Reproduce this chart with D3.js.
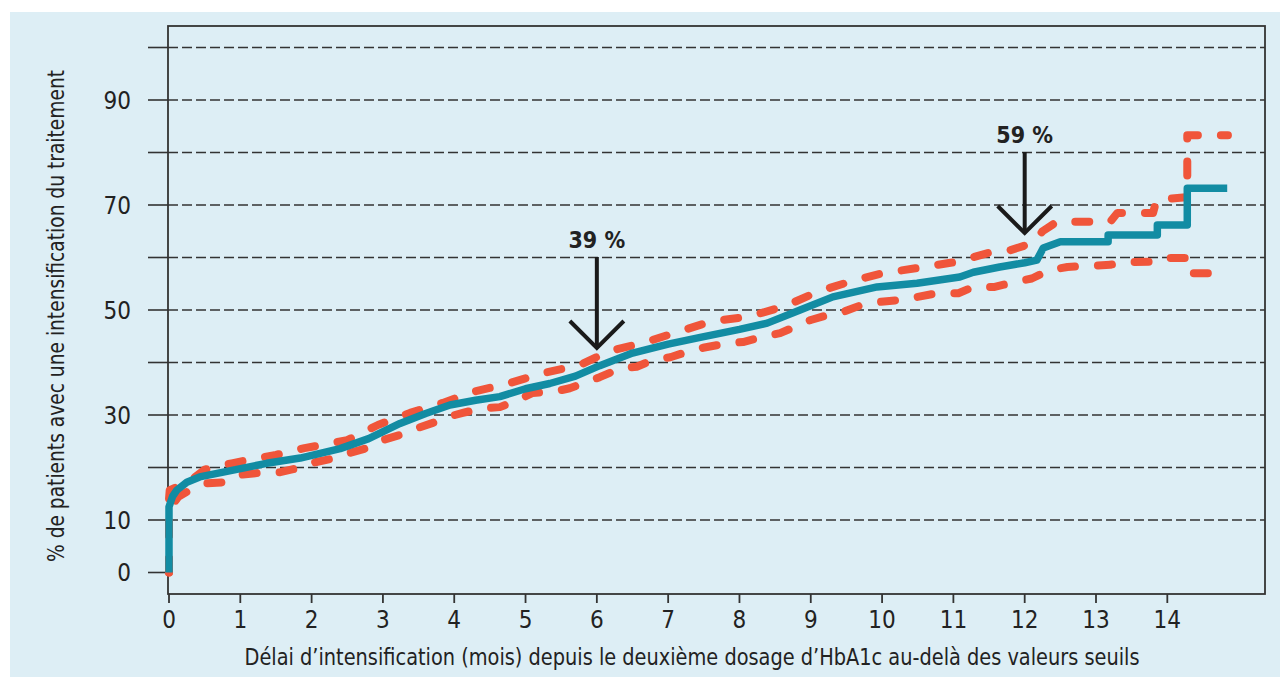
<!DOCTYPE html>
<html><head><meta charset="utf-8">
<script src="https://cdn.jsdelivr.net/npm/d3@7"></script>
<style>
html,body{margin:0;padding:0;background:#fff;}
svg text{font-family:"Liberation Sans Narrow","DejaVu Sans Condensed","Roboto Condensed",sans-serif;fill:#222;}
</style></head>
<body>
<svg id="chart" width="1280" height="677"></svg>
<script>
// ---- data (months, % of patients) ----
const xTicks = [0,1,2,3,4,5,6,7,8,9,10,11,12,13,14];
const yTicks = [0,10,20,30,40,50,60,70,80,90,100];
const yTickLabels = [0,10,30,50,70,90];

const mainCurve = [[0,0],[0,12.5],[0.05,14.5],[0.11,15.7],[0.25,17.2],[0.43,18.2],[0.9,19.5],[1.37,20.8],[1.84,21.8],[2.4,23.6],[2.8,25.5],[3.24,28.4],[3.6,30.3],[3.94,31.9],[4.3,32.8],[4.64,33.5],[5.0,35.0],[5.34,36.0],[5.7,37.4],[6.04,39.4],[6.5,41.8],[7.0,43.5],[7.45,44.8],[8.0,46.3],[8.39,47.5],[8.85,50.0],[9.31,52.5],[9.93,54.4],[10.49,55.1],[11.09,56.3],[11.28,57.2],[11.65,58.2],[12.0,59.0],[12.17,59.5],[12.26,61.8],[12.5,63.0],[13.17,63.0],[13.17,64.3],[13.86,64.3],[13.86,66.2],[14.28,66.2],[14.28,73.2],[14.84,73.2]];

const upperCI = [[0,0],[0,14],[0.01,15.7],[0.27,17.2],[0.5,19.6],[0.88,20.8],[1.1,21.4],[1.5,22.4],[1.9,23.7],[2.15,24.3],[2.5,25.2],[2.93,28.1],[3.38,30.4],[3.84,32.3],[4.26,34.4],[4.76,36.0],[5.25,38.0],[5.76,39.5],[6.18,42.2],[6.67,43.8],[7.15,45.9],[7.6,47.8],[8.15,48.8],[8.65,50.8],[9.1,53.5],[9.55,55.4],[10.0,57.0],[10.55,58.1],[11.05,59.2],[11.5,60.9],[11.8,61.4],[12.1,62.7],[12.25,65.0],[12.45,66.8],[13.2,66.8],[13.3,68.5],[13.8,68.5],[13.85,71.0],[14.28,71.5],[14.28,83.3],[14.85,83.3]];

const lowerCI = [[0,0],[0,12],[0.13,14.4],[0.29,15.7],[0.53,17.0],[0.79,17.2],[1.0,18.6],[1.28,19.0],[1.56,19.1],[1.81,19.9],[2.05,21.0],[2.33,21.8],[2.54,22.8],[2.78,23.7],[2.99,25.2],[3.24,26.2],[3.48,27.5],[3.7,28.5],[3.9,29.6],[4.12,30.4],[4.39,31.3],[4.64,31.5],[4.9,32.9],[5.1,34.2],[5.39,34.4],[5.62,35.1],[5.86,36.3],[6.04,37.2],[6.33,38.9],[6.56,39.2],[6.79,40.5],[7.03,41.0],[7.26,42.0],[7.49,42.8],[7.8,43.6],[8.05,43.9],[8.3,44.8],[8.57,45.6],[8.78,46.8],[9.0,48.1],[9.23,49.0],[9.45,49.6],[9.72,51.0],[9.94,51.5],[10.25,51.9],[10.5,52.5],[10.77,53.2],[11.07,53.2],[11.28,54.4],[11.58,54.4],[11.85,55.3],[12.1,56.0],[12.35,57.6],[12.6,58.2],[13.2,58.6],[13.35,59.1],[13.85,59.2],[13.95,59.9],[14.28,59.9],[14.3,57.0],[14.7,57.0]];

const annotationMonths = [6, 12];
const annotationValues = [39, 59];
const annotationLabels = ["39 %", "59 %"];

const xTitle = "Délai d’intensification (mois) depuis le deuxième dosage d’HbA1c au-delà des valeurs seuils";
const yTitle = "% de patients avec une intensification du traitement";

// ---- layout ----
const svg = d3.select("#chart");
const L = 168, R = 1265, T = 26, B = 594;
const x = d3.scaleLinear().domain([0, 15.37]).range([169, R]);
const y = d3.scaleLinear().domain([0, 100]).range([572.5, 47.5]);

svg.append("rect").attr("x",10).attr("y",12).attr("width",1270).attr("height",665).attr("fill","#ddeef5");

// gridlines
svg.append("g").selectAll("line").data(yTicks.filter(d=>d>0)).join("line")
  .attr("x1",L).attr("x2",R).attr("y1",d=>y(d)).attr("y2",d=>y(d))
  .attr("stroke","#333").attr("stroke-width",1.6).attr("stroke-dasharray","10,4");
// y tick stubs
svg.append("g").selectAll("line").data(yTicks).join("line")
  .attr("x1",148).attr("x2",L).attr("y1",d=>y(d)).attr("y2",d=>y(d))
  .attr("stroke","#333").attr("stroke-width",1.6);
// y labels
svg.append("g").selectAll("text").data(yTickLabels).join("text")
  .attr("x",131).attr("y",d=>y(d)).attr("dy","0.36em").attr("text-anchor","end")
  .attr("font-size",24).text(d=>d);

// frame
svg.append("rect").attr("x",L).attr("y",T).attr("width",R-L).attr("height",B-T)
  .attr("fill","none").attr("stroke","#333").attr("stroke-width",1.8);

// x ticks
svg.append("g").selectAll("line").data(xTicks).join("line")
  .attr("x1",d=>x(d)).attr("x2",d=>x(d)).attr("y1",B).attr("y2",B+9)
  .attr("stroke","#333").attr("stroke-width",1.8);
svg.append("g").selectAll("text").data(xTicks).join("text")
  .attr("x",d=>x(d)).attr("y",628).attr("text-anchor","middle")
  .attr("font-size",24).text(d=>d);

// titles
svg.append("text").attr("x",692).attr("y",665).attr("text-anchor","middle")
  .attr("font-size",22.5).attr("textLength",895).attr("lengthAdjust","spacingAndGlyphs").text(xTitle);
svg.append("text").attr("transform","translate(64,316) rotate(-90)")
  .attr("text-anchor","middle").attr("font-size",22.5)
  .attr("textLength",492).attr("lengthAdjust","spacingAndGlyphs").text(yTitle);

// curves
const line = d3.line().x(d=>x(d[0])).y(d=>y(d[1]));
[upperCI, lowerCI].forEach(ci=>{
  svg.append("path").attr("d",line(ci)).attr("fill","none")
    .attr("stroke","#f0553a").attr("stroke-width",8)
    .attr("stroke-dasharray","14,23").attr("stroke-linecap","round").attr("stroke-linejoin","round");
});
svg.append("path").attr("d",line(mainCurve)).attr("fill","none")
  .attr("stroke","#128ca3").attr("stroke-width",7.5).attr("stroke-linejoin","round");

// annotations (arrow geometry = layout)
const arrowTopY = [257, 152];
const arrowTipY = [348, 233];
annotationMonths.forEach((m,i)=>{
  const cx = x(m);
  const tipY = arrowTipY[i], topY = arrowTopY[i];
  const g = svg.append("g").attr("stroke","#1a1a1a").attr("stroke-width",4).attr("fill","none");
  g.append("line").attr("x1",cx).attr("x2",cx).attr("y1",topY).attr("y2",tipY);
  g.append("polyline").attr("points",`${cx-27},${tipY-27} ${cx},${tipY} ${cx+27},${tipY-27}`).attr("stroke-linejoin","miter");
  svg.append("text").attr("x",cx).attr("y",topY-9).attr("text-anchor","middle")
    .attr("font-size",23).attr("font-weight","bold").text(annotationLabels[i]);
});
</script>
</body></html>
